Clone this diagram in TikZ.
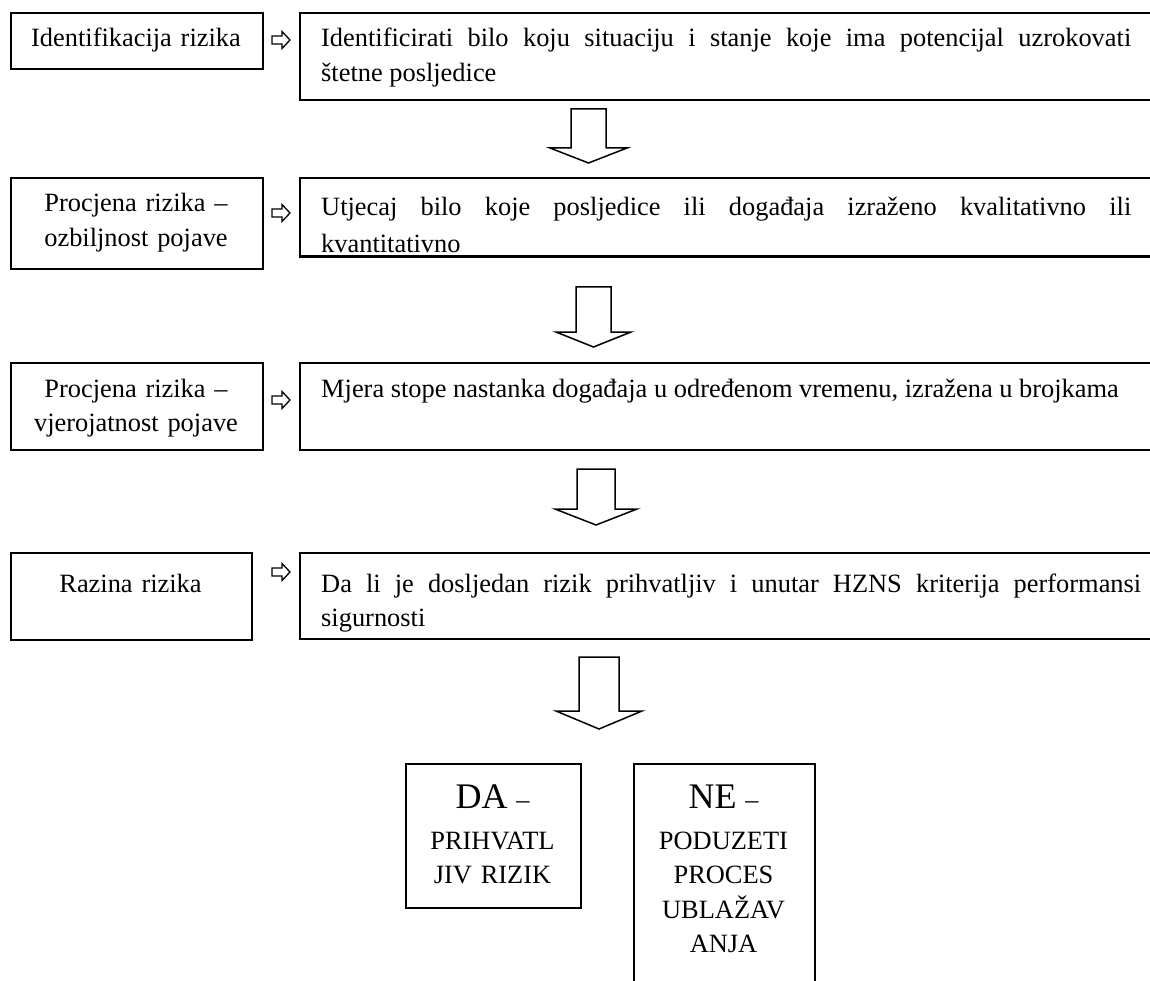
\documentclass[tikz,border=0pt]{standalone}
\usepackage{fontspec}
\setmainfont{Liberation Serif}
\usetikzlibrary{calc}

% open block arrow pointing down: #1 = top of shaft, #2 = tip,
% #3 = half shaft width, #4 = half head width, #5 = head length
\newcommand{\flowdown}[5]{%
  \draw[blk] ($(#1)+(-#3,0)$) -- ($(#2)+(-#3,-#5)$) -- ($(#2)+(-#4,-#5)$) -- (#2)
    -- ($(#2)+(#4,-#5)$) -- ($(#2)+(#3,-#5)$) -- ($(#1)+(#3,0)$) -- cycle;}
% small open arrow pointing right: #1 = tail, #2 = tip
\newcommand{\flowright}[2]{%
  \draw[blk, line width=1.3pt] ($(#1)+(0,-4)$) -- ($(#2)+(-8,-4)$) -- ($(#2)+(-8,-8.5)$) -- (#2)
    -- ($(#2)+(-8,8.5)$) -- ($(#2)+(-8,4)$) -- ($(#1)+(0,4)$) -- cycle;}

\begin{document}
\begin{tikzpicture}[x=1pt, y=-1pt,
  frame/.style={draw=black, line width=1.6pt, inner sep=0pt, anchor=north west},
  wide/.style={frame, line width=1.8pt, minimum width=880pt},
  label/.style={inner sep=0pt, font=\fontsize{26.4}{34.5}\selectfont},
  ctext/.style={label, anchor=base, align=center},
  jtext/.style={label, anchor=base west, align=justify, text width=810pt},
  blk/.style={draw=black, line width=1.5pt, fill=white, line join=miter},
]
\useasboundingbox (0,0) rectangle (1150,981);
\clip (0,0) rectangle (1150,981);
\tolerance=10000 \hyphenpenalty=10000

% ---- step boxes (left) ----
\node[frame, minimum width=252pt, minimum height=56pt] (l1) at (10,12) {};
\node[frame, minimum width=252pt, minimum height=91pt] (l2) at (10,177) {};
\node[frame, minimum width=252pt, minimum height=87pt] (l3) at (10,362) {};
\node[frame, minimum width=241pt, minimum height=87pt] (l4) at (10,552) {};

% ---- description boxes (right) ----
\node[wide, minimum height=87pt] (r1) at (299,12) {};
\node[wide, minimum height=78pt] (r2) at (299,177) {};
\node[wide, minimum height=87pt] (r3) at (299,362) {};
\node[wide, minimum height=86pt] (r4) at (299,552) {};

% ---- outcome boxes ----
\node[frame, minimum width=175pt, minimum height=144pt] (da) at (405,763) {};
\node[frame, minimum width=181pt, minimum height=260pt] (ne) at (633,763) {};

% ---- texts ----
\node[ctext, text width=252pt] (l1t) at (136,47) {Identifikacija rizika};
\node[ctext, text width=252pt] (l2t) at (136,212) {Procjena rizika –\\ozbiljnost pojave};
\node[ctext, text width=252pt] (l3t) at (136,397) {Procjena rizika –\\vjerojatnost pojave};
\node[ctext, text width=241pt] (l4t) at (130.5,592) {Razina rizika};

\node[jtext] (r1t) at (321,47) {Identificirati bilo koju situaciju i stanje koje ima potencijal uzrokovati\linebreak štetne posljedice};
% the second description overflows its frame and is cut at the bottom edge
\begin{scope}
  \clip (r2.north west) rectangle (r2.south east);
  \node[jtext, font=\fontsize{26.4}{37}\selectfont] (r2t) at (321,216) {Utjecaj bilo koje posljedice ili događaja izraženo kvalitativno ili\linebreak kvantitativno};
\end{scope}
\draw[line width=1.8pt] (r2.south west) -- (r2.south east);
\node[jtext] (r3t) at (321,397) {Mjera stope nastanka događaja u određenom vremenu, izražena u brojkama};
\node[jtext, text width=820pt] (r4t) at (321,592) {Da li je dosljedan rizik prihvatljiv i unutar HZNS kriterija performansi\linebreak sigurnosti};

\node[ctext, text width=175pt] (dat) at (492.5,808)
  {{\fontsize{36}{36}\selectfont DA} –\\[6.5pt]PRIHVATL\\JIV RIZIK};
\node[ctext, text width=181pt] (net) at (723.5,808)
  {{\fontsize{36}{36}\selectfont NE} –\\[6.5pt]PODUZETI\\PROCES\\UBLAŽAV\\ANJA};

% ---- small arrows between step and description ----
\coordinate (s1a) at (272,40);  \coordinate (s1b) at (290,40);
\coordinate (s2a) at (272,213); \coordinate (s2b) at (290,213);
\coordinate (s3a) at (272,400); \coordinate (s3b) at (290,400);
\coordinate (s4a) at (272,572); \coordinate (s4b) at (290,572);
\flowright{s1a}{s1b}
\flowright{s2a}{s2b}
\flowright{s3a}{s3b}
\flowright{s4a}{s4b}

% ---- block arrows between the steps ----
\coordinate (d1a) at (588.5,109); \coordinate (d1b) at (588.5,163);
\coordinate (d2a) at (593.5,287); \coordinate (d2b) at (593.5,347);
\coordinate (d3a) at (596,469);   \coordinate (d3b) at (596,525);
\coordinate (d4a) at (599,657);   \coordinate (d4b) at (599,729);
\flowdown{d1a}{d1b}{17.5}{38.5}{15}
\flowdown{d2a}{d2b}{17.5}{37.5}{15}
\flowdown{d3a}{d3b}{19}{41}{16}
\flowdown{d4a}{d4b}{20}{43}{18}
\end{tikzpicture}
\end{document}
